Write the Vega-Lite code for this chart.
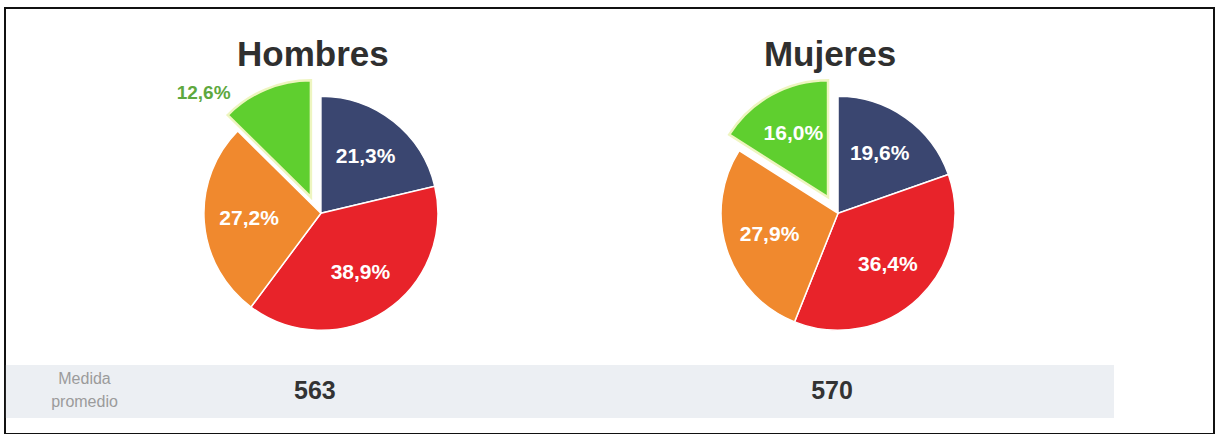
{
  "$schema": "https://vega.github.io/schema/vega-lite/v6.json",
  "width": 1209,
  "height": 426,
  "autosize": {"type": "none"},
  "padding": {"left": 5, "top": 8, "right": 4, "bottom": 0},
  "background": "#ffffff",
  "config": {
    "view": {"stroke": "#111111", "strokeWidth": 2},
    "font": "Liberation Sans",
    "locale": {"number": {"decimal": ",", "thousands": ".", "grouping": [3], "currency": ["", " €"]}},
    "axisY": {"title": null, "domain": false, "ticks": false, "grid": false,
      "labelExpr": "datum.value == 'medida' ? ['Medida', 'promedio'] : ''",
      "labelAlign": "center", "labelBaseline": "middle", "labelPadding": -79, "labelOffset": -12,
      "labelColor": "#9b9b9b", "labelFontSize": 16, "labelLineHeight": 23, "labelFont": "Liberation Sans"}
  },
  "datasets": {
    "sectores": [
      {"grupo": "Hombres", "categoria": "A", "proporcion": 0.213},
      {"grupo": "Hombres", "categoria": "B", "proporcion": 0.389},
      {"grupo": "Hombres", "categoria": "C", "proporcion": 0.272},
      {"grupo": "Hombres", "categoria": "D", "proporcion": 0.126},
      {"grupo": "Mujeres", "categoria": "A", "proporcion": 0.196},
      {"grupo": "Mujeres", "categoria": "B", "proporcion": 0.364},
      {"grupo": "Mujeres", "categoria": "C", "proporcion": 0.279},
      {"grupo": "Mujeres", "categoria": "D", "proporcion": 0.160}
    ],
    "grupos": [
      {"grupo": "Hombres", "media": 563},
      {"grupo": "Mujeres", "media": 570}
    ]
  },
  "layer": [
    {
      "data": {"values": [{"desde": "Hombres", "hasta": "Mujeres"}]},
      "mark": {"type": "rect", "color": "#eceff3", "xOffset": -315, "x2Offset": 276},
      "encoding": {
        "x": {"field": "desde", "type": "nominal", "scale": {"type": "point", "domain": ["Hombres", "Mujeres"], "padding": 0.669, "align": 0.4566}, "axis": null},
        "x2": {"field": "hasta"},
        "y": {
          "datum": "medida", "type": "nominal",
          "scale": {"type": "band", "domain": ["titulo", "grafico", "medida"], "paddingInner": 0.685, "paddingOuter": 0.1085, "align": 0.5616},
          "axis": {"zindex": 1}
        }
      }
    },
    {
      "data": {"name": "sectores"},
      "transform": [
        {"stack": "proporcion", "groupby": ["grupo"], "sort": [{"field": "categoria", "order": "ascending"}], "offset": "normalize", "as": ["t0", "t1"]},
        {"filter": "datum.categoria != 'D'"}
      ],
      "mark": {"type": "arc", "radius": 117, "stroke": "#ffffff", "strokeWidth": 1.5, "yOffset": -10},
      "encoding": {
        "x": {"field": "grupo", "type": "nominal", "axis": null},
        "y": {"datum": "grafico", "type": "nominal", "axis": {"zindex": 1}},
        "theta": {"field": "t0", "type": "quantitative", "scale": {"domain": [0, 1]}},
        "theta2": {"field": "t1"},
        "color": {"field": "categoria", "type": "nominal", "scale": {"domain": ["A", "B", "C", "D"], "range": ["#3a4670", "#e8232a", "#f0892e", "#5fcf2f"]}, "legend": null}
      }
    },
    {
      "data": {"name": "sectores"},
      "transform": [
        {"stack": "proporcion", "groupby": ["grupo"], "sort": [{"field": "categoria", "order": "ascending"}], "offset": "normalize", "as": ["t0", "t1"]},
        {"filter": "datum.categoria == 'D'"}
      ],
      "mark": {"type": "arc", "radius": 117, "stroke": "#eef5c0", "strokeWidth": 2.5, "xOffset": -10, "yOffset": -26},
      "encoding": {
        "x": {"field": "grupo", "type": "nominal", "axis": null},
        "y": {"datum": "grafico", "type": "nominal", "axis": {"zindex": 1}},
        "theta": {"field": "t0", "type": "quantitative"},
        "theta2": {"field": "t1"},
        "color": {"field": "categoria", "type": "nominal", "legend": null}
      }
    },
    {
      "data": {"name": "sectores"},
      "transform": [{"filter": "datum.grupo == 'Hombres'"}],
      "mark": {"type": "text", "radius": 72, "yOffset": -10, "fontSize": 21, "fontWeight": "bold", "fill": "#ffffff"},
      "encoding": {
        "x": {"field": "grupo", "type": "nominal", "axis": null},
        "y": {"datum": "grafico", "type": "nominal", "axis": {"zindex": 1}},
        "theta": {"field": "proporcion", "type": "quantitative", "stack": "normalize"},
        "order": {"field": "categoria", "type": "ordinal"},
        "text": {"condition": {"test": "datum.categoria == 'D'", "value": ""}, "field": "proporcion", "type": "quantitative", "format": ".1%"}
      }
    },
    {
      "data": {"name": "sectores"},
      "transform": [{"filter": "datum.grupo == 'Mujeres'"}],
      "mark": {"type": "text", "radius": 72, "yOffset": -10, "fontSize": 21, "fontWeight": "bold", "fill": "#ffffff"},
      "encoding": {
        "x": {"field": "grupo", "type": "nominal", "axis": null},
        "y": {"datum": "grafico", "type": "nominal", "axis": {"zindex": 1}},
        "theta": {"field": "proporcion", "type": "quantitative", "stack": "normalize"},
        "order": {"field": "categoria", "type": "ordinal"},
        "text": {"condition": {"test": "datum.categoria == 'D'", "value": ""}, "field": "proporcion", "type": "quantitative", "format": ".1%"}
      }
    },
    {
      "data": {"name": "sectores"},
      "transform": [{"filter": "datum.grupo == 'Mujeres'"}],
      "mark": {"type": "text", "radius": 72, "xOffset": -10, "yOffset": -26, "fontSize": 21, "fontWeight": "bold", "fill": "#ffffff"},
      "encoding": {
        "x": {"field": "grupo", "type": "nominal", "axis": null},
        "y": {"datum": "grafico", "type": "nominal", "axis": {"zindex": 1}},
        "theta": {"field": "proporcion", "type": "quantitative", "stack": "normalize"},
        "order": {"field": "categoria", "type": "ordinal"},
        "text": {"condition": {"test": "datum.categoria != 'D'", "value": ""}, "field": "proporcion", "type": "quantitative", "format": ".1%"}
      }
    },
    {
      "data": {"name": "sectores"},
      "transform": [
        {"stack": "proporcion", "groupby": ["grupo"], "sort": [{"field": "categoria", "order": "ascending"}], "offset": "normalize", "as": ["t0", "t1"]},
        {"filter": "datum.grupo == 'Hombres' && datum.categoria == 'D'"}
      ],
      "mark": {"type": "text", "radius": 148, "xOffset": -12, "yOffset": -26, "fontSize": 19, "fontWeight": "bold", "fill": "#5ea83e"},
      "encoding": {
        "x": {"field": "grupo", "type": "nominal", "axis": null},
        "y": {"datum": "grafico", "type": "nominal", "axis": {"zindex": 1}},
        "theta": {"field": "t0", "type": "quantitative"},
        "text": {"field": "proporcion", "type": "quantitative", "format": ".1%"}
      }
    },
    {
      "data": {"name": "grupos"},
      "mark": {"type": "text", "dx": -8, "fontSize": 35, "fontWeight": "bold", "fill": "#2f2f2f"},
      "encoding": {
        "x": {"field": "grupo", "type": "nominal", "axis": null},
        "y": {"datum": "titulo", "type": "nominal", "axis": {"zindex": 1}},
        "text": {"field": "grupo", "type": "nominal"}
      }
    },
    {
      "data": {"name": "grupos"},
      "mark": {"type": "text", "dx": -6, "fontSize": 25, "fontWeight": "bold", "fill": "#333333"},
      "encoding": {
        "x": {"field": "grupo", "type": "nominal", "axis": null},
        "y": {"datum": "medida", "type": "nominal", "axis": {"zindex": 1}},
        "text": {"field": "media", "type": "quantitative", "format": "d"}
      }
    }
  ]
}
